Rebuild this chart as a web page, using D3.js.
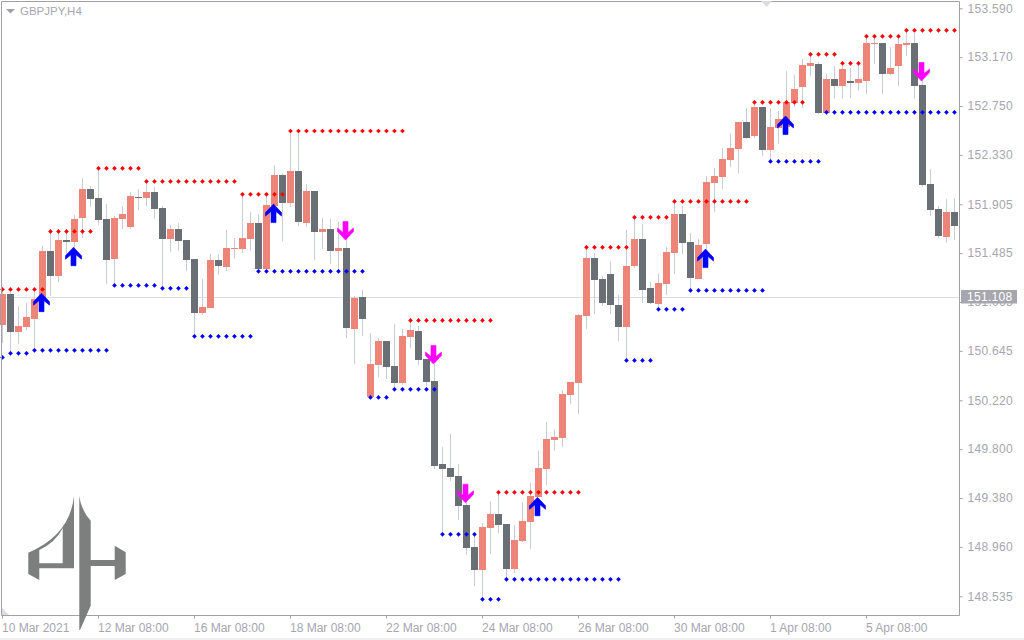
<!DOCTYPE html>
<html>
<head>
<meta charset="utf-8">
<script src="https://cdn.jsdelivr.net/npm/d3@7"></script>
<style>
  html, body { margin: 0; padding: 0; background: #fff; overflow: hidden; }
  text { font-family: "Liberation Sans", sans-serif; font-size: 12px; fill: #a6a6b0; }
  .axis line { stroke: #a0a0a6; }
  .axis .domain { display: none; }
  .axis--y text { letter-spacing: 0.3px; }
</style>
</head>
<body>
<svg class="chart"></svg>
<script>
const width = 1024, height = 640;

// candle values, one entry per 4h bar
const opens = [150.867,151.134,150.807,150.850,150.919,151.091,151.504,151.289,151.598,151.581,151.787,152.036,151.959,151.779,151.435,151.779,151.710,151.967,151.959,152.010,
  151.873,151.607,151.692,151.598,151.435,150.970,151.013,151.426,151.366,151.520,151.520,151.607,151.744,151.348,151.890,152.156,151.916,152.191,151.744,152.019,
  151.666,151.692,151.504,151.529,150.833,151.108,150.248,150.524,150.730,150.515,150.368,150.764,150.816,150.575,150.386,149.672,149.638,149.569,149.320,148.959,
  148.761,149.122,149.243,149.157,148.770,149.010,149.174,149.389,149.629,149.878,149.895,150.265,150.368,150.945,151.443,151.263,151.306,151.039,150.850,151.374,
  151.607,151.185,151.047,151.220,151.486,151.822,151.581,151.263,151.563,152.088,152.139,152.285,152.380,152.612,152.492,152.741,152.371,152.561,152.569,152.776,
  152.913,153.094,153.111,152.690,152.982,152.922,152.965,152.947,152.965,153.283,153.291,153.025,153.094,153.274,153.291,152.930,152.079,151.864,151.624,151.839];
const closes = [151.134,150.807,150.858,150.936,151.091,151.504,151.289,151.598,151.581,151.779,152.036,151.950,151.769,151.426,151.787,151.822,151.976,151.959,152.010,151.864,
  151.607,151.692,151.589,151.426,150.970,151.022,151.426,151.374,151.529,151.529,151.615,151.744,151.348,151.899,152.156,151.916,152.191,151.753,152.019,151.666,
  151.692,151.504,151.529,150.841,151.099,150.919,150.532,150.730,150.506,150.368,150.772,150.824,150.567,150.377,149.655,149.629,149.561,149.311,148.950,148.761,
  149.131,149.243,149.148,148.770,149.019,149.182,149.397,149.638,149.887,149.904,150.274,150.377,150.953,151.443,151.254,151.056,151.039,150.850,151.374,151.607,
  151.168,151.056,151.228,151.495,151.822,151.572,151.271,151.555,152.096,152.148,152.294,152.389,152.612,152.475,152.741,152.371,152.569,152.638,152.784,152.896,
  153.102,153.119,152.690,152.982,152.922,153.068,152.947,152.982,153.291,153.291,153.025,153.076,153.283,153.291,152.922,152.071,151.856,151.632,151.839,151.718];
const highs = [151.177,151.151,151.030,151.056,151.168,151.547,151.675,151.675,151.675,151.813,152.130,152.062,152.216,151.907,151.804,151.890,152.010,152.036,152.096,152.053,
  151.890,151.727,151.744,151.598,151.435,151.263,151.478,151.478,151.684,151.615,151.993,151.839,151.822,151.993,152.242,152.173,152.526,152.535,152.079,152.019,
  151.787,151.779,151.753,151.615,151.117,151.168,150.798,150.755,150.730,150.876,150.833,150.902,150.858,150.575,150.532,149.818,149.931,149.672,149.363,149.079,
  149.165,149.354,149.432,149.157,149.148,149.346,149.509,149.784,150.033,149.973,150.308,150.377,150.962,151.538,151.486,151.289,151.418,151.125,151.684,151.787,
  151.735,151.237,151.314,151.538,151.933,151.890,151.658,151.607,152.148,152.216,152.389,152.518,152.612,152.733,152.801,152.741,152.733,152.707,153.051,153.016,
  153.154,153.205,153.128,153.025,153.094,153.119,153.076,153.119,153.351,153.351,153.291,153.257,153.351,153.403,153.377,152.973,152.208,151.890,151.950,151.959];
const lows = [150.712,150.626,150.703,150.824,150.652,151.065,151.117,151.237,151.443,151.512,151.615,151.882,151.727,151.220,151.212,151.692,151.692,151.856,151.890,151.779,
  151.203,151.495,151.504,151.331,150.772,150.953,151.013,151.297,151.331,151.435,151.486,151.504,151.331,151.348,151.873,151.589,151.882,151.718,151.710,151.426,
  151.520,151.391,151.340,150.755,150.532,150.772,150.248,150.420,150.403,150.308,150.351,150.670,150.524,150.342,149.629,149.071,149.526,149.191,148.890,148.623,
  148.503,148.899,149.079,148.684,148.735,149.002,148.942,149.389,149.492,149.784,149.818,150.188,150.102,150.833,150.962,151.030,150.962,150.730,150.567,151.357,
  151.056,151.047,150.996,151.125,151.306,151.478,151.168,151.263,151.512,151.839,152.036,152.225,152.173,152.466,152.475,152.320,152.285,152.423,152.543,152.741,
  152.733,153.008,152.681,152.690,152.810,152.810,152.818,152.879,152.853,153.111,152.853,153.016,152.922,153.180,152.810,152.053,151.804,151.615,151.572,151.598];

// stepped channel levels: each level runs from its start bar up to the next start
const redStarts = [0,6,12,18,30,36,51,62,73,79,84,94,101,105,108,113];
const redPrices = [151.173,151.672,152.214,152.102,151.991,152.535,150.907,149.429,151.535,151.793,151.930,152.782,153.194,153.117,153.349,153.401];
const blueStarts = [0,1,4,14,20,24,32,46,49,55,60,63,78,82,86,96,103];
const bluePrices = [150.589,150.624,150.650,151.208,151.183,150.770,151.329,150.245,150.314,149.068,148.509,148.681,150.563,151.002,151.165,152.274,152.696];

// signal arrows
const upBars = [5,9,34,67,88,98];
const upPrices = [151.141,151.536,151.907,149.386,151.520,152.664];
const downBars = [43,54,58,115];
const downPrices = [151.598,150.532,149.340,152.965];

// axes
const priceTicks = [153.590,153.170,152.750,152.330,151.905,151.485,151.065,150.645,150.220,149.800,149.380,148.960,148.535];
const timeBars = [0,12,24,36,48,60,72,84,96,108];
const timeLabels = ["10 Mar 2021","12 Mar 08:00","16 Mar 08:00","18 Mar 08:00","22 Mar 08:00","24 Mar 08:00","26 Mar 08:00","30 Mar 08:00","1 Apr 08:00","5 Apr 08:00"];
const bidPrice = 151.108;

const scaleX = d3.scaleLinear().domain([0, 119]).range([2.5, 954.5]);
const scaleY = d3.scaleLinear().domain([148.535, 153.590]).range([596.3, 8.3]);

const svg = d3.select(".chart").attr("width", width).attr("height", height).style("display", "block");

// window edge strip
svg.append("rect").attr("x", 0).attr("y", 638).attr("width", width).attr("height", 2).attr("fill", "#f0f0f0");

// current price line
svg.append("line").attr("x1", 2).attr("x2", 959)
  .attr("y1", Math.round(scaleY(bidPrice)) + 0.5).attr("y2", Math.round(scaleY(bidPrice)) + 0.5)
  .attr("stroke", "#dcdce0");

// candles
const bars = d3.range(opens.length);
const candle = svg.append("g").selectAll("g").data(bars).join("g");
candle.append("line").attr("class", "wick")
  .attr("x1", i => Math.floor(scaleX(i)) + 0.5).attr("x2", i => Math.floor(scaleX(i)) + 0.5)
  .attr("y1", i => scaleY(highs[i])).attr("y2", i => scaleY(lows[i]))
  .attr("stroke", "#c8ccda");
candle.append("rect").attr("class", "body")
  .attr("x", i => Math.floor(scaleX(i)) - 3).attr("width", 7)
  .attr("y", i => Math.round(scaleY(Math.max(opens[i], closes[i]))))
  .attr("height", i => Math.max(1, Math.round(scaleY(Math.min(opens[i], closes[i]))) - Math.round(scaleY(Math.max(opens[i], closes[i])))))
  .attr("fill", i => closes[i] >= opens[i] ? "#ec8577" : "#6a6f76");

// channel dots
function levelAt(starts, prices, i) {
  return prices[d3.bisectRight(starts, i) - 1];
}
const dot = d3.symbol().type(d3.symbolSquare).size(11);
function drawDots(starts, prices, color) {
  svg.append("g").selectAll("path").data(bars).join("path")
    .attr("d", dot)
    .attr("transform", i => `translate(${scaleX(i)},${scaleY(levelAt(starts, prices, i))}) rotate(45)`)
    .attr("fill", color);
}
drawDots(redStarts, redPrices, "#ff0000");
drawDots(blueStarts, bluePrices, "#0000ff");

// signal arrows, tip at the price
const arrow = "M0,0L8,8.5L8,12L2.5,7.5L2.5,18.5L-2.5,18.5L-2.5,7.5L-8,12L-8,8.5Z";
svg.append("g").selectAll("path").data(upBars).join("path")
  .attr("d", arrow)
  .attr("transform", (d, k) => `translate(${scaleX(d) - 1},${scaleY(upPrices[k])})`)
  .attr("fill", "#0000ff").attr("stroke", "#0000ff").attr("stroke-width", 0.6);
svg.append("g").selectAll("path").data(downBars).join("path")
  .attr("d", arrow)
  .attr("transform", (d, k) => `translate(${scaleX(d) - 1},${scaleY(downPrices[k])}) scale(1,-1)`)
  .attr("fill", "#ff00ff").attr("stroke", "#ff00ff").attr("stroke-width", 0.6);

// frame
svg.append("path").attr("d", "M1.5,615.5V1.5H959.5V615.5H1.5Z").attr("fill", "none").attr("stroke", "#a0a0a6");

// axes
const xAxis = svg.append("g").attr("class", "axis").attr("transform", "translate(0,615.5)")
  .call(d3.axisBottom(scaleX).tickValues(timeBars).tickSize(3).tickPadding(5).tickFormat((d, k) => timeLabels[k]));
xAxis.selectAll("text").attr("text-anchor", "start").attr("dx", "-0.5");
xAxis.selectAll(".tick").attr("transform", d => `translate(${Math.floor(scaleX(d)) + 0.5},0)`);

const yAxis = svg.append("g").attr("class", "axis axis--y").attr("transform", "translate(959.5,0)")
  .call(d3.axisRight(scaleY).tickValues(priceTicks).tickSize(3).tickPadding(5).tickFormat(d3.format(".3f")));

// current price tag
const tagY = scaleY(bidPrice);
svg.append("rect").attr("x", 961).attr("y", tagY - 7).attr("width", 56).attr("height", 13.5).attr("fill", "#a6a6ae");
svg.append("text").attr("x", 967).attr("y", tagY + 4).style("fill", "#fff").style("letter-spacing", "0.3px").text(d3.format(".3f")(bidPrice));

// header
svg.append("path").attr("d", "M6,9H15L10.5,13.5Z").attr("fill", "#a0a0a6");
svg.append("text").attr("x", 20).attr("y", 15).style("font-size", "11.5px").text("GBPJPY,H4");
svg.append("path").attr("d", "M761,1H772L766.5,7Z").attr("fill", "#dcdce0");
svg.append("path").attr("d", "M2,608V615H9Z").attr("fill", "#dcdce6");

// watermark
const logo = svg.append("g").attr("fill", "#7c7f7e");
logo.append("path").attr("fill-rule", "evenodd")
  .attr("d", "M74,496Q70,535 28.3,552.7V574L39.3,580V568.3H74Z M39.3,550Q55,543 62.7,528.3V563.3H39.3Z");
logo.append("path")
  .attr("d", "M79.3,496Q81,510 90.7,520.7V560H114.7V545.7L125.7,552.3V574L114.7,580V566H90.7V605.7L80,630H79.3Z");
</script>
</body>
</html>
